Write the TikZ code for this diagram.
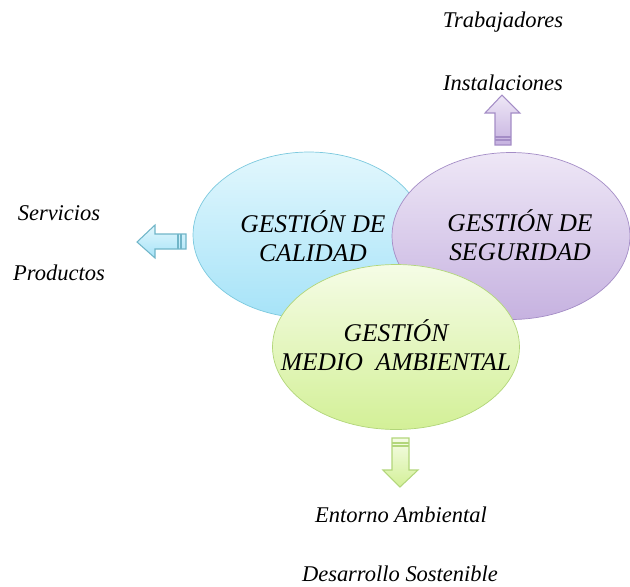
\documentclass[tikz,border=0pt]{standalone}
\usepackage{fontspec}
\setmainfont{Liberation Serif}
\usetikzlibrary{shapes.geometric}

\definecolor{calidadA}{HTML}{E2F7FD}
\definecolor{calidadB}{HTML}{A6E3F8}
\definecolor{calidadL}{HTML}{7CC9DE}
\definecolor{segurA}{HTML}{EEE7F6}
\definecolor{segurB}{HTML}{C6B2E0}
\definecolor{segurL}{HTML}{A48DC6}
\definecolor{medioA}{HTML}{F5FCE6}
\definecolor{medioB}{HTML}{D3F097}
\definecolor{medioL}{HTML}{B2D67A}

\tikzset{
  circulo/.style={ellipse, inner sep=0pt},
  titulo/.style={font=\fontsize{14.5}{16.5}\itshape, align=center},
  etiqueta/.style={font=\fontsize{12.8}{15}\itshape},
  flecha/.style={line width=0.6pt, line join=miter}
}

\begin{document}
\begin{tikzpicture}[x=0.02cm, y=-0.02cm]
        \useasboundingbox (0,0) rectangle (630,586);
        % los tres circulos
        \node[circulo, draw=calidadL, top color=calidadA, bottom color=calidadB,
              minimum width=4.64cm, minimum height=3.32cm] (calidad) at (309,235) {};
        \node[titulo] (tcal) at (313,236) {GESTIÓN DE\\CALIDAD};
        \node[circulo, draw=segurL, top color=segurA, bottom color=segurB,
              minimum width=4.76cm, minimum height=3.34cm] (seguridad) at (511,236) {};
        \node[titulo] (tseg) at (520,235) {GESTIÓN DE\\SEGURIDAD};
        \node[circulo, draw=medioL, top color=medioA, bottom color=medioB,
              minimum width=4.94cm, minimum height=3.30cm] (medio) at (396,347) {};
        \node[titulo] (tmed) at (396,345) {GESTIÓN\\MEDIO\ \ AMBIENTAL};
        % etiquetas
        \node[etiqueta] (trab) at (503,22) {Trabajadores};
        \node[etiqueta] (inst) at (503,83) {Instalaciones};
        \node[etiqueta] (serv) at (59,213) {Servicios};
        \node[etiqueta] (prod) at (59,273) {Productos};
        \node[etiqueta] (ento) at (401,515) {Entorno Ambiental};
        \node[etiqueta] (desa) at (400,574) {Desarrollo Sostenible};
        % flechas
        \draw[flecha, draw=calidadL!90!black, top color=calidadA, bottom color=calidadB]
          (137,242) -- (155,225) -- (155,234) -- (186,234) -- (186,249)
          -- (155,249) -- (155,258) -- cycle;
        \draw[calidadL!90!black, line width=0.8pt] (181,234) -- (181,249) (178,234) -- (178,249);
        \draw[flecha, draw=segurL, top color=segurA, bottom color=segurB]
          (502,95) -- (520,113) -- (511,113) -- (511,145) -- (495,145)
          -- (495,113) -- (485,113) -- cycle;
        \draw[segurL, line width=0.8pt] (495,140) -- (511,140) (495,137) -- (511,137);
        \draw[flecha, draw=medioL, top color=medioA, bottom color=medioB]
          (392,438) -- (409,438) -- (409,470) -- (418,470) -- (400,487)
          -- (383,470) -- (392,470) -- cycle;
        \draw[medioL, line width=0.8pt] (392,443) -- (409,443) (392,446) -- (409,446);
\end{tikzpicture}
\end{document}
